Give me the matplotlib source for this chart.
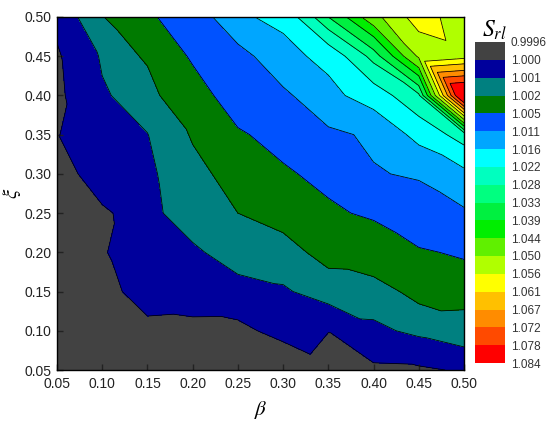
import numpy as np
import matplotlib
matplotlib.use('Agg')
import matplotlib.pyplot as plt
import matplotlib.tri as mtri
from matplotlib.colors import ListedColormap, BoundaryNorm
import matplotlib.cm as cm

plt.rcParams['mathtext.fontset'] = 'stix'
plt.rcParams['font.family'] = ['Liberation Sans', 'DejaVu Sans']

beta = [0.05, 0.10, 0.15, 0.20, 0.25, 0.30, 0.35, 0.40, 0.45, 0.50]
xi = [0.05, 0.10, 0.15, 0.20, 0.25, 0.30, 0.35, 0.40, 0.45, 0.50]

# S_rl, one row per xi (0.05 first), one column per beta
s_rl = [
    [0.9996, 0.9996, 0.9996, 0.9996, 0.9996, 0.99923, 0.9998, 0.99982, 0.99986, 1.0001],
    [0.9996, 0.9997, 0.99982, 0.99978, 0.99977, 1.0003, 1.00001, 1.0008, 1.0012, 1.00163],
    [0.9996, 0.99976, 1.0003, 1.0004, 1.0006, 1.00087, 1.00146, 1.00151, 1.00236, 1.00232],
    [0.9996, 0.99992, 1.0006, 1.00081, 1.00151, 1.0016, 1.00237, 1.0028, 1.0045, 1.00559],
    [0.9996, 0.99978, 1.0007, 1.00156, 1.0020, 1.0024, 1.0045, 1.0055, 1.0085, 1.0104],
    [0.9993, 1.0008, 1.0008, 1.0017, 1.0024, 1.00461, 1.0058, 1.0107, 1.0115, 1.0145],
    [0.99995, 1.0007, 1.00098, 1.0021, 1.00465, 1.0060, 1.0101, 1.0117, 1.0176, 1.0247],
    [0.9998, 1.0009, 1.0014, 1.0036, 1.0066, 1.0100, 1.0146, 1.0184, 1.0270, 1.0900],
    [0.99988, 1.0011, 1.0022, 1.0054, 1.0090, 1.0146, 1.0173, 1.0300, 1.0510, 1.0540],
    [1.00024, 1.0019, 1.0043, 1.0075, 1.0154, 1.0170, 1.0330, 1.0480, 1.0590, 1.0526],
]

levels = [0.9996, 1.000, 1.001, 1.002, 1.005, 1.011, 1.016, 1.022, 1.028, 1.033,
          1.039, 1.044, 1.050, 1.056, 1.061, 1.067, 1.072, 1.078, 1.084]
level_labels = ['0.9996', '1.000', '1.001', '1.002', '1.005', '1.011', '1.016', '1.022',
                '1.028', '1.033', '1.039', '1.044', '1.050', '1.056', '1.061', '1.067',
                '1.072', '1.078', '1.084']
band_colors = ['#424242', '#00009c', '#008080', '#007a00', '#0052ff', '#00a6ff',
               '#00ffff', '#00ffbf', '#00ff80', '#00f040', '#00ee00', '#60f000',
               '#b0ff00', '#ffff00', '#ffc000', '#ff8c00', '#ff4a00', '#ff0000']

# grid + triangulation (each cell cut from upper-left to lower-right)
nx, ny = len(beta), len(xi)
bx, xy = np.meshgrid(beta, xi)
z = np.array(s_rl).ravel()
tris = []
for i in range(ny - 1):
    for j in range(nx - 1):
        a = i * nx + j
        b = i * nx + j + 1
        c = (i + 1) * nx + j
        d = (i + 1) * nx + j + 1
        tris.append([a, b, c])
        tris.append([b, d, c])
tri = mtri.Triangulation(bx.ravel(), xy.ravel(), tris)

cmap = ListedColormap(band_colors)
cmap.set_under(band_colors[0])
cmap.set_over(band_colors[-1])
norm = BoundaryNorm(levels, len(band_colors))

fig = plt.figure(figsize=(5.5, 4.33), dpi=100)
ax = fig.add_axes([57 / 550, 63 / 433, 407 / 550, 353 / 433])
ax.tricontourf(tri, z, levels=levels, cmap=cmap, norm=norm, extend='both')
ax.tricontour(tri, z, levels=levels[1:-1], colors='black', linewidths=0.55)

ticks = [0.05, 0.10, 0.15, 0.20, 0.25, 0.30, 0.35, 0.40, 0.45, 0.50]
ax.set_xlim(0.05, 0.50)
ax.set_ylim(0.05, 0.50)
ax.set_xticks(ticks)
ax.set_yticks(ticks)
ax.set_xticklabels(['%.2f' % t for t in ticks])
ax.set_yticklabels(['%.2f' % t for t in ticks])
ax.tick_params(direction='in', length=4, width=1, labelsize=10, colors='#222222',
               top=False, right=False)
ax.tick_params(axis='x', pad=5)
ax.tick_params(axis='y', pad=4)
for s in ax.spines.values():
    s.set_linewidth(1.0)
ax.set_xlabel(r'$\beta$', fontsize=15, labelpad=6)
ax.set_ylabel(r'$\xi$', fontsize=15, labelpad=1)

cax = fig.add_axes([475 / 550, 70 / 433, 30 / 550, 321 / 433])
sm = cm.ScalarMappable(norm=norm, cmap=cmap)
cb = fig.colorbar(sm, cax=cax, ticks=levels, spacing='uniform')
cb.outline.set_visible(False)
cb.ax.set_yticklabels(level_labels)
cb.ax.invert_yaxis()
cb.ax.tick_params(length=0, labelsize=8.5, colors='#333333', pad=4)
fig.text(494 / 550, 1 - 30 / 433, r'$S_{rl}$', fontsize=17, ha='center', va='center')

fig.savefig('out.png', dpi=100)
